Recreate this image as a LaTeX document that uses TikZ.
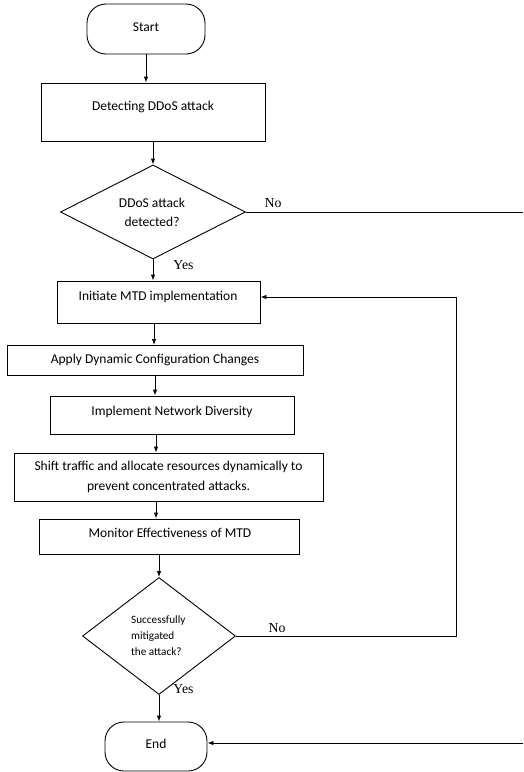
\documentclass[tikz,border=0pt]{standalone}
\usepackage{fontspec}
\setmainfont{Carlito}
\newfontfamily\seriffont{Liberation Serif}
\usetikzlibrary{shapes.geometric,arrows.meta}
\tikzset{
  box/.style={draw, line width=0.9pt, rectangle, inner sep=0pt},
  term/.style={draw, line width=0.9pt, rectangle, rounded corners=19pt, inner sep=0pt},
  dec/.style={draw, line width=0.9pt, diamond, inner sep=0pt},
  txt/.style={font=\fontsize{13.5}{16}\selectfont, inner sep=0pt, align=center},
  lbl/.style={font=\seriffont\fontsize{13.8}{16}\selectfont, inner sep=0pt},
  arr/.style={line width=0.9pt, -{Latex[length=6pt,width=4.5pt]}},
  ln/.style={line width=0.9pt}
}
\begin{document}
\begin{tikzpicture}[x=1pt,y=-1pt]
\useasboundingbox (0,0) rectangle (523,772);
% nodes
\node[term, minimum width=118pt, minimum height=50pt] (start) at (146,29) {};
\node[txt] (starttxt) at (146,27) {Start};
\node[box, minimum width=224pt, minimum height=58pt] (detect) at (153,112) {};
\node[txt] (detecttxt) at (153,107) {Detecting DDoS attack};
\node[dec, minimum width=185pt, minimum height=94pt] (d1) at (153,212) {};
\node[txt, font=\fontsize{13.5}{19}\selectfont] (d1txt) at (152,212) {DDoS attack\\ detected?};
\node[box, minimum width=203pt, minimum height=42pt] (init) at (158.5,302) {};
\node[txt] (inittxt) at (158,297) {Initiate MTD implementation};
\node[box, minimum width=296pt, minimum height=30pt] (apply) at (155,360) {};
\node[txt] (applytxt) at (155,360) {Apply Dynamic Configuration Changes};
\node[box, minimum width=244pt, minimum height=38pt] (impl) at (172,415) {};
\node[txt] (impltxt) at (172,412) {Implement Network Diversity};
\node[box, minimum width=309pt, minimum height=48pt] (shift) at (168.5,477) {};
\node[txt, font=\fontsize{13.5}{20}\selectfont] (shifttxt) at (168.5,477) {Shift traffic and allocate resources dynamically to\\ prevent concentrated attacks.};
\node[box, minimum width=260pt, minimum height=35pt] (mon) at (169,536.5) {};
\node[txt] (montxt) at (170,533) {Monitor Effectiveness of MTD};
\node[dec, minimum width=153pt, minimum height=117pt] (d2) at (159,636) {};
\node[txt, font=\fontsize{11.2}{16}\selectfont, align=left, anchor=west] (d2txt) at (131,636) {Successfully\\ mitigated\\ the attack?};
\node[term, minimum width=102pt, minimum height=49pt] (end) at (156,746.5) {};
\node[txt] (endtxt) at (156,744) {End};
% labels
\node[lbl] (no1) at (273,203) {No};
\node[lbl] (yes1) at (183.5,265) {Yes};
\node[lbl] (no2) at (277,628) {No};
\node[lbl] (yes2) at (183.5,689) {Yes};
% free ends
\coordinate (r1) at (523,211);
\coordinate (r2) at (523,743);
\coordinate (loopb) at (456,636);
\coordinate (loopt) at (456,297);
% connectors
\draw[arr] (start.south) -- (start.south |- detect.north);
\draw[arr] (detect.south) -- (d1.north);
\draw[arr] (d1.south) -- (d1.south |- init.north);
\draw[arr] (154,323) -- (154,345);
\draw[arr] (apply.south -| 155,0) -- (impl.north -| 155,0);
\draw[arr] (impl.south -| 156,0) -- (shift.north -| 156,0);
\draw[arr] (shift.south -| 156,0) -- (mon.north -| 156,0);
\draw[arr] (mon.south -| d2.north) -- (d2.north);
\draw[arr] (d2.south) -- (d2.south |- end.north);
\draw[ln] (d1.east) -- (d1.east -| r1);
\draw[ln] (d2.east) -- (loopb) -- (loopt);
\draw[arr] (loopt) -- (loopt -| init.east);
\draw[arr] (r2) -- (r2 -| end.east);
\end{tikzpicture}
\end{document}
